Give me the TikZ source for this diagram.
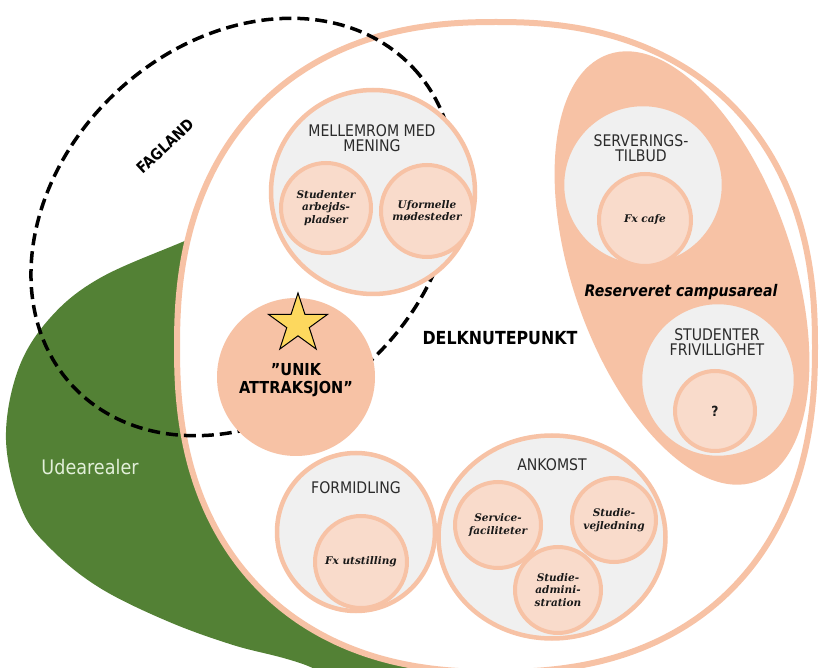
\documentclass[tikz,border=0pt]{standalone}
\usepackage{fontspec}
\usepackage{tikz}
\usetikzlibrary{shapes.geometric, positioning}
\newfontfamily\labelfont[FakeStretch=0.88]{DejaVu Sans}
\newfontfamily\notefont{DejaVu Serif}
\definecolor{salmon}{HTML}{F7C2A5}
\definecolor{salmonlight}{HTML}{F9DBCB}
\definecolor{greyfill}{HTML}{F0F0F0}
\definecolor{udegreen}{HTML}{538135}
\definecolor{udetext}{HTML}{E2EFD9}
\definecolor{staryellow}{HTML}{FDD85E}
\definecolor{textgrey}{HTML}{2B2B2B}
\tikzset{
  zone/.style={circle,draw=salmon,line width=4.5pt,fill=greyfill,inner sep=0pt},
  subzone/.style={circle,draw=salmon,line width=4pt,fill=salmonlight,inner sep=0pt,
    font=\notefont\bfseries\itshape\fontsize{10.5}{12.5}\selectfont,align=center,text=black!90},
  caplabel/.style={font=\labelfont\fontsize{16}{15.5}\selectfont,text=textgrey,align=center,inner sep=0pt},
  boldlabel/.style={font=\labelfont\bfseries\fontsize{18}{18}\selectfont,align=center,inner sep=0pt},
  unikfont/.style={font=\labelfont\bfseries\fontsize{16.5}{18}\selectfont,align=center,inner sep=0pt},
  fagland/.style={draw=black,line width=3.5pt,dash pattern=on 12pt off 6pt},
}

\begin{document}
\begin{tikzpicture}[x=1pt,y=-1pt]
  \useasboundingbox (0,0) rectangle (820,668);
  \clip (0,0) rectangle (820,668);

  % Udearealer
  \fill[udegreen] plot[smooth cycle,tension=0.6] coordinates {
    (270,205) (187,240) (100,278) (50,318) (18,370) (6,440) (22,510) (52,550)
    (100,588) (167,621) (233,645) (300,663) (400,700) (470,650) (420,380)};
  \node[font=\labelfont\fontsize{20}{20}\selectfont,text=udetext,inner sep=0pt] (ude) at (90,467) {Udearealer};

  % Delknutepunkt
  \filldraw[draw=salmon,fill=white,line width=6pt]
    plot[domain=0:357,samples=120,smooth cycle]
    ({496+319*cos(\x)*(abs(cos(\x))+0.0001)^(-0.138)},
     {347+325*sin(\x)*(abs(sin(\x))+0.0001)^(-0.138)});

  % Fagland
  \draw[fagland,rotate around={43:(243,227)}] (243,227) ellipse [x radius=233,y radius=185];
  \node[font=\labelfont\bfseries\fontsize{15.5}{15.5}\selectfont,rotate=43,inner sep=0pt] (fag) at (165,146) {FAGLAND};

  % Reserveret campusareal
  \fill[salmon,rotate around={19:(682,268)}] (682,268) ellipse [x radius=110,y radius=226];
  \node[font=\labelfont\bfseries\itshape\fontsize{16}{16}\selectfont,inner sep=0pt] (reservert) at (681,292) {Reserveret campusareal};

  % Mellemrom med mening
  \node[zone,minimum size=204pt] (mellemrom) at (373,192) {};
  \node[caplabel] (mellemromtxt) at (372,138) {MELLEMROM MED\\MENING};
  \node[subzone,minimum size=90pt] (arbejd) at (326,208) {Studenter\\arbejds-\\pladser};
  \node[subzone,minimum size=92pt] (moede) at (427,211) {Uformelle\\mødesteder};

  % Serveringstilbud
  \node[zone,minimum size=162pt] (servering) at (643,185) {};
  \node[caplabel] (serveringtxt) at (641,148) {SERVERINGS-\\TILBUD};
  \node[subzone,minimum size=92pt] (cafe) at (645,220) {Fx cafe};

  % Studenter frivillighet
  \node[zone,minimum size=156pt] (frivillig) at (718,380) {};
  \node[caplabel] (frivilligtxt) at (717,342) {STUDENTER\\FRIVILLIGHET};
  \node[subzone,minimum size=80pt,font=\labelfont\bfseries\fontsize{14}{14}\selectfont] (ukjent) at (715,411) {?};

  % Unik attraksjon
  \node[circle,fill=salmon,minimum size=158pt,inner sep=0pt] (unik) at (296,377) {};
  \node[star,star points=5,star point ratio=2.618,minimum size=62pt,inner sep=0pt,
    draw=black,line width=1pt,fill=staryellow] (stjerne) at (298,324) {};
  \node[unikfont] (uniktxt) at (296,380) {”UNIK\\ATTRAKSJON”};

  \node[boldlabel] (delknute) at (500,338) {DELKNUTEPUNKT};

  % Formidling
  \node[zone,minimum size=158pt] (formidling) at (356,532) {};
  \node[caplabel] (formidlingtxt) at (356,488) {FORMIDLING};
  \node[subzone,minimum size=92pt] (utstilling) at (361,562) {Fx utstilling};

  % Ankomst
  \node[zone,ellipse,minimum width=227pt,minimum height=203pt] (ankomst) at (552,537) {};
  \node[caplabel] (ankomsttxt) at (552,465) {ANKOMST};
  \node[subzone,minimum size=86pt] (service) at (498,525) {Service-\\faciliteter};
  \node[subzone,minimum size=84pt] (vejledning) at (614,520) {Studie-\\vejledning};
  \node[subzone,minimum size=86pt] (admin) at (558,590) {Studie-\\admini-\\stration};
\end{tikzpicture}
\end{document}
